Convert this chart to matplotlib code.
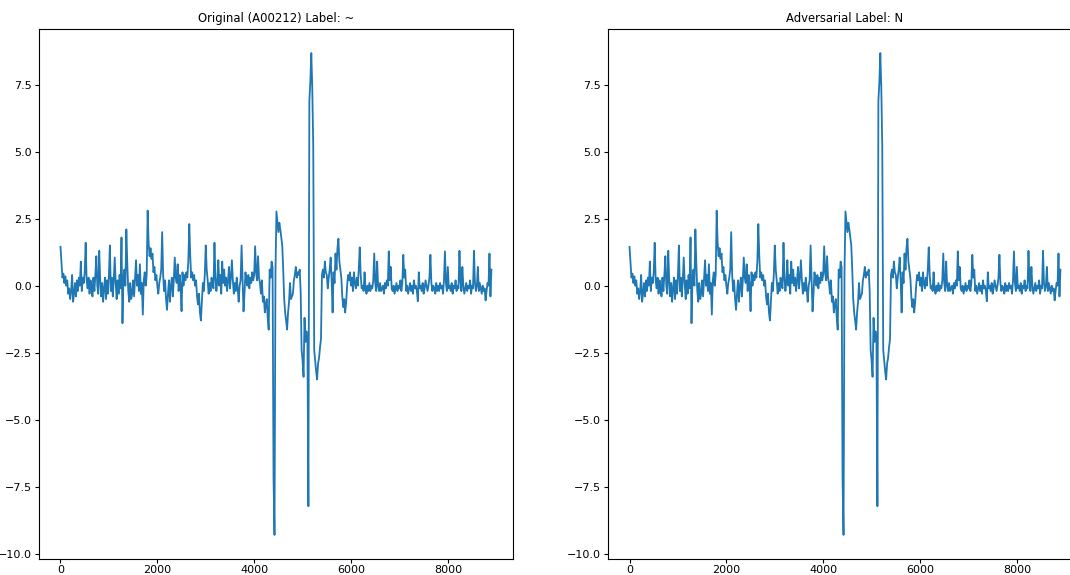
import numpy as np
import matplotlib
matplotlib.use('Agg')
import matplotlib.pyplot as plt

# ECG record A00212, one value every 20 samples
step = 20
original = np.array([
    1.45, 0.9, 0.3, 0.45, 0.1, 0.35, 0.0, 0.2, -0.3, -0.1,
    -0.5, -0.2, 0.4, -0.6, -0.3, 0.1, -0.4, 0.2, -0.2, 0.3,
    0.0, 0.9, -0.2, 0.3, 0.1, 0.5, 1.6, 0.2, -0.1, 0.3,
    -0.3, 0.2, 0.0, -0.4, 0.3, -0.2, 0.4, 1.1, 0.0, -0.3,
    1.3, 0.2, -0.4, 0.1, -0.6, -0.1, 0.3, -0.5, 0.2, -0.3,
    0.4, 1.5, -0.2, 0.3, -0.4, 0.2, 1.05, 0.1, -0.5, 0.2,
    -0.3, 0.4, -0.1, 1.8, -1.4, 0.3, 0.6, 0.0, 2.1, 0.8,
    -0.2, -0.6, 0.1, -0.5, -0.3, 0.2, -0.4, 0.3, 0.95, 0.0,
    0.4, -0.2, 0.8, -0.3, 0.1, -1.08, 0.2, 0.5, 0.0, 0.4,
    2.8, 1.6, 1.1, 1.4, 1.0, 1.2, 0.5, 0.7, 0.2, 0.4,
    0.0, -0.3, 0.1, 0.3, 0.6, 2.0, 0.4, -0.2, 0.2, -0.5,
    -0.9, -0.3, 0.2, -0.6, 0.0, 0.3, -0.4, 0.2, 1.05, 0.3,
    0.1, 0.8, -0.2, 0.4, 0.0, -0.95, 0.5, 0.0, 0.4, 0.2,
    0.5, 0.3, 0.9, 2.3, 1.1, 0.3, 0.5, 0.2, 0.4, 0.0,
    0.2, -0.4, -0.7, -0.3, -1.0, -1.3, -0.6, 0.1, -0.2, 0.4,
    1.5, 0.6, 0.2, -0.3, 0.1, -0.2, 0.3, 0.0, -0.1, 1.6,
    0.3, -0.2, 0.2, 0.95, 0.0, 0.4, -0.3, 0.9, 0.1, 0.6,
    0.0, 0.3, -0.2, 0.2, 0.7, -0.1, 0.3, 0.95, 0.2, -0.3,
    0.1, -0.2, 0.3, -0.1, -0.6, 0.0, 0.2, 1.5, 0.3, -0.96,
    -0.3, 0.5, 0.2, 0.0, 0.4, -0.1, 0.3, 0.1, 0.5, 0.2,
    0.4, 1.47, 0.5, 0.2, 1.1, 0.3, 0.1, -0.3, 0.2, -0.6,
    -0.4, -1.0, -0.7, -0.5, -1.2, -1.64, 0.6, 0.3, 0.9, 0.7,
    -7.2, -9.3, 0.5, 2.77, 2.4, 2.0, 2.35, 2.1, 1.8, 1.5,
    0.6, -0.5, -1.0, -1.3, -1.64, -1.0, -0.6, 0.1, -0.5, -0.4,
    -0.3, 0.2, 0.4, 0.7, 0.3, 0.5, 0.4, 0.6, -0.2, -2.4,
    -2.8, -3.4, -1.2, -2.1, -1.7, -2.0, -8.23, 6.9, 7.6, 8.68,
    7.4, 5.2, -2.4, -2.8, -3.2, -3.5, -2.9, -2.7, -2.3, -2.0,
    0.4, 0.6, 0.3, 0.9, 0.5, 0.4, -0.1, 0.3, 0.6, 1.05,
    0.2, -1.0, 0.5, 0.1, 1.2, 0.6, 1.4, 1.75, 0.9, 0.6,
    0.3, -0.4, -0.8, -0.5, -1.0, -0.6, 0.0, 0.4, 0.2, 0.5,
    0.0, 0.3, -0.2, 0.5, 0.1, -0.1, 0.3, 0.0, 0.6, 1.43,
    0.4, -0.1, 0.0, -0.2, 0.5, -0.1, -0.3, 0.0, -0.2, 0.1,
    -0.2, 0.0, -0.1, 0.2, 1.2, 0.1, -0.2, 0.9, 0.0, -0.2,
    0.1, -0.2, -0.1, 0.0, -0.3, 0.1, -0.1, 0.2, 0.0, 1.28,
    0.2, 0.7, -0.1, -0.2, 0.0, -0.3, -0.1, 0.1, -0.2, 0.0,
    -0.1, 0.2, -0.2, 0.1, 1.15, 0.3, 0.6, -0.2, 0.0, -0.3,
    -0.1, 0.1, -0.2, 0.0, -0.3, 0.2, -0.1, 0.0, -0.2, -0.58,
    0.5, -0.1, 0.0, -0.2, 0.1, -0.3, -0.1, 0.2, 0.0, -0.2,
    0.0, 0.3, 1.15, 0.1, -0.2, 0.0, -0.1, -0.3, 0.1, -0.2,
    0.0, -0.2, 0.1, -0.1, 0.0, -0.3, 0.2, 1.28, 0.1, -0.2,
    0.7, -0.1, 0.0, -0.2, 0.1, -0.3, 0.0, -0.1, 0.2, -0.2,
    0.0, -0.1, 1.3, 0.2, -0.2, 0.7, 0.0, -0.3, -0.1, 0.1,
    -0.2, 0.0, -0.1, 0.2, -0.3, 0.0, -0.1, 1.3, 0.1, -0.2,
    0.0, 0.7, -0.2, 0.1, -0.1, -0.3, 0.0, -0.2, -0.1, -0.55,
    -0.2, 0.1, 0.0, 1.2, -0.4, 0.6,
])
# the perturbation is too small to see at this scale
adversarial = original.copy()

titles = ['Original (A00212) Label: ~', 'Adversarial Label: N']
signals = [original, adversarial]

t = np.arange(len(original)) * step

fig = plt.figure(figsize=(10.7, 5.75), dpi=100)
ax1 = fig.add_axes([0.0364, 0.0278, 0.443, 0.9218])
ax2 = fig.add_axes([0.5682, 0.0278, 0.443, 0.9218])

for ax, sig, title in zip([ax1, ax2], signals, titles):
    ax.plot(t, sig, color='#1f77b4', linewidth=1.3)
    ax.set_title(title, fontsize=8.4, pad=5)
    ax.tick_params(labelsize=8, length=3)
    ax.tick_params(axis='x', pad=1.5)
    ax.tick_params(axis='y', pad=2)
    ax.set_xticks([0, 2000, 4000, 6000, 8000])
    ax.set_yticks([-10.0, -7.5, -5.0, -2.5, 0.0, 2.5, 5.0, 7.5])

fig.savefig('out.png', dpi=100)
